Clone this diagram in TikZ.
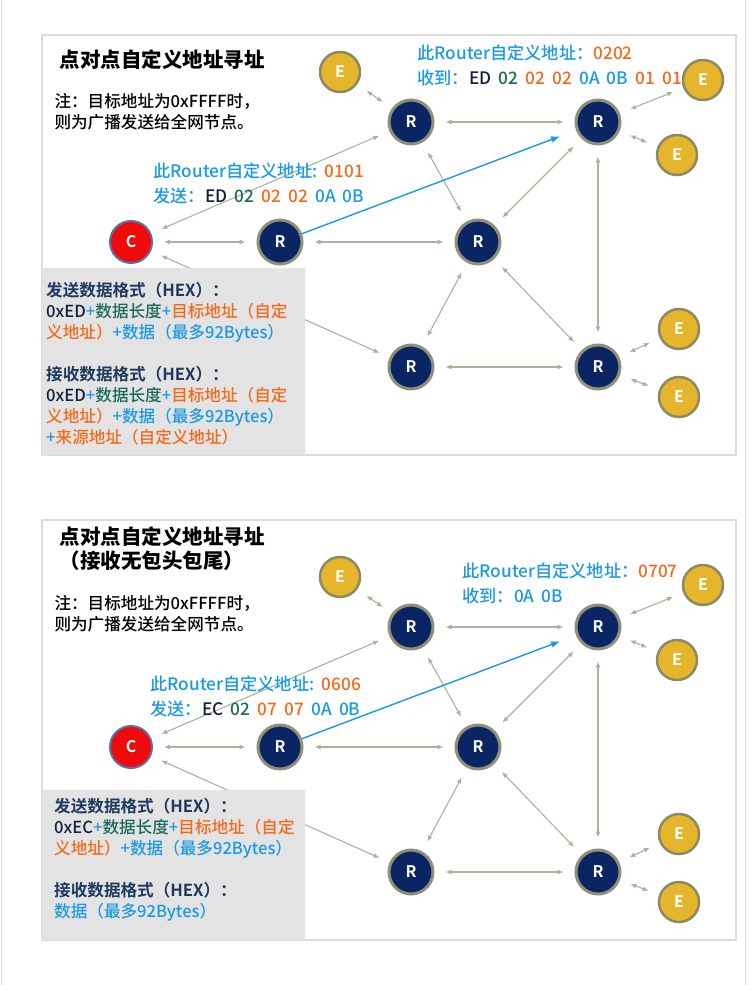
\documentclass[tikz,border=0pt]{standalone}
\usepackage{fontspec}
\setmainfont{Noto Sans CJK SC}[UprightFont={Noto Sans CJK SC Medium}, BoldFont={Noto Sans CJK SC Bold}]
\newfontfamily\heavyfont{Noto Sans CJK SC Black}
\usetikzlibrary{arrows.meta}
\definecolor{sky}{HTML}{1A9AE2}
\definecolor{orng}{HTML}{F26A1B}
\definecolor{deepnavy}{HTML}{14213D}
\definecolor{hdnavy}{HTML}{1F3A60}
\definecolor{tealc}{HTML}{1B6B5A}
\definecolor{rfill}{HTML}{0B2463}
\definecolor{rring}{HTML}{8C9178}
\definecolor{efill}{HTML}{E5B52C}
\definecolor{ering}{HTML}{8B8A62}
\definecolor{cfill}{HTML}{F00A0A}
\definecolor{cring}{HTML}{5B6FA8}
\definecolor{linkcol}{HTML}{A9B49C}
\definecolor{boxgray}{HTML}{E3E3E3}
\definecolor{framecol}{HTML}{DCDCDC}

\newcommand\tsky[1]{\textcolor{sky}{#1}}
\newcommand\torg[1]{\textcolor{orng}{#1}}
\newcommand\tnavy[1]{\textcolor{deepnavy}{#1}}
\newcommand\tteal[1]{\textcolor{tealc}{#1}}
\newcommand\hexgap{\hspace{0.42em}}

% the mesh of routers, same in both panels
\newcommand\meshnet{%
  \node[rnode] (r1) at (411,122) {R};
  \node[rnode] (r2) at (598,122) {R};
  \node[rnode] (r3) at (280,242) {R};
  \node[rnode] (r4) at (478,242) {R};
  \node[rnode] (r5) at (411,367) {R};
  \node[rnode] (r6) at (598,367) {R};
  \node[cnode] (c)  at (131,242) {C};
  \node[enode] (e1) at (340,72)  {E};
  \node[enode] (e2) at (703,80)  {E};
  \node[enode] (e3) at (677,155) {E};
  \node[enode] (e4) at (679,329) {E};
  \node[enode] (e5) at (679,397) {E};
  \foreach \a/\b in {e1/r1, r1/r2, r2/e2, r2/e3, c/r3, c/r1, c/r5, r3/r4,
                     r4/r1, r4/r2, r4/r5, r4/r6, r2/r6, r5/r6, r6/e4, r6/e5}
    \draw[link] (\a) -- (\b);
  \draw[sendarrow] (r3) -- (r2);}

\begin{document}
\begin{tikzpicture}[x=1pt, y=-1pt,
  font=\fontsize{16.6}{21}\selectfont,
  rnode/.style={circle, fill=rfill, draw=rring, line width=3pt, minimum size=44pt,
    inner sep=0pt, text=white, font=\fontsize{16}{16}\selectfont\bfseries},
  enode/.style={circle, fill=efill, draw=ering, line width=2.5pt, minimum size=40pt,
    inner sep=0pt, text=white, font=\fontsize{16}{16}\selectfont\bfseries},
  cnode/.style={circle, fill=cfill, draw=cring, line width=2pt, minimum size=42pt,
    inner sep=0pt, text=white, font=\fontsize{16}{16}\selectfont\bfseries},
  link/.style={linkcol, line width=1.1pt,
    {Latex[length=6pt,width=5pt]}-{Latex[length=6pt,width=5pt]},
    shorten <=11pt, shorten >=11pt},
  sendarrow/.style={sky, line width=1.4pt, -{Latex[length=9pt,width=7pt]},
    shorten >=17pt},
  ttl/.style={anchor=west, align=left, font=\fontsize{20.5}{24}\selectfont\heavyfont},
  txt/.style={anchor=west, align=left},
  lbl/.style={anchor=west, align=left, font=\fontsize{17.2}{25}\selectfont},
  boxtxt/.style={anchor=north west, align=left, inner sep=0pt}]

\useasboundingbox (0,0) rectangle (750,985);
\draw[framecol, line width=1pt] (1,0) -- (1,985) (745,0) -- (745,985);

% ================================================================ upper panel
\draw[framecol, line width=1.5pt, fill=white] (42,35) rectangle (736,455);
\begin{scope}
  \meshnet
\end{scope}
\fill[boxgray] (42,268) rectangle (305,455);

\node[ttl] (ttlA) at (56,60) {点对点自定义地址寻址};
\node[txt] (noteA) at (51,111.5) {注：目标地址为0xFFFF时，\\则为广播发送给全网节点。};
\node[lbl] (rxA) at (414,65)
  {\tsky{此Router自定义地址：}\torg{0202}\\
   \tsky{收到：}\tnavy{ED}\hexgap\tteal{02}\hexgap\torg{02\hexgap02}\hexgap\tsky{0A\hexgap0B}\hexgap\torg{01\hexgap01}};
\node[lbl] (txA) at (150,183.5)
  {\tsky{此Router自定义地址:\hexgap}\torg{0101}\\
   \tsky{发送：}\tnavy{ED}\hexgap\tteal{02}\hexgap\torg{02\hexgap02}\hexgap\tsky{0A\hexgap0B}};
\node[boxtxt] (fmtA) at (46,282)
  {\textbf{\textcolor{hdnavy}{发送数据格式（HEX）：}}\\
   \tnavy{0xED}\tsky{+}\tteal{数据长度}\tsky{+}\torg{目标地址（自定}\\
   \torg{义地址）}\tsky{+数据（最多92Bytes）}\\[21pt]
   \textbf{\textcolor{hdnavy}{接收数据格式（HEX）：}}\\
   \tnavy{0xED}\tsky{+}\tteal{数据长度}\tsky{+}\torg{目标地址（自定}\\
   \torg{义地址）}\tsky{+数据（最多92Bytes）}\\
   \tsky{+}\torg{来源地址（自定义地址）}};

% ================================================================ lower panel
\draw[framecol, line width=1.5pt, fill=white] (42,520) rectangle (736,940);
\begin{scope}[shift={(0,505)}]
  \meshnet
\end{scope}
\fill[boxgray] (42,790) rectangle (305,940);

\node[ttl] (ttlB) at (56,549) {点对点自定义地址寻址\\（接收无包头包尾）};
\node[txt] (noteB) at (51,614) {注：目标地址为0xFFFF时，\\则为广播发送给全网节点。};
\node[lbl] (rxB) at (459,583.5)
  {\tsky{此Router自定义地址：}\torg{0707}\\
   \tsky{收到：0A\hexgap0B}};
\node[lbl] (txB) at (147,696)
  {\tsky{此Router自定义地址:\hexgap}\torg{0606}\\
   \tsky{发送：}\tnavy{EC}\hexgap\tteal{02}\hexgap\torg{07\hexgap07}\hexgap\tsky{0A\hexgap0B}};
\node[boxtxt] (fmtB) at (54,798)
  {\textbf{\textcolor{hdnavy}{发送数据格式（HEX）：}}\\
   \tnavy{0xEC}\tsky{+}\tteal{数据长度}\tsky{+}\torg{目标地址（自定}\\
   \torg{义地址）}\tsky{+数据（最多92Bytes）}\\[21pt]
   \textbf{\textcolor{hdnavy}{接收数据格式（HEX）：}}\\
   \tsky{数据（最多92Bytes）}};

\end{tikzpicture}
\end{document}
